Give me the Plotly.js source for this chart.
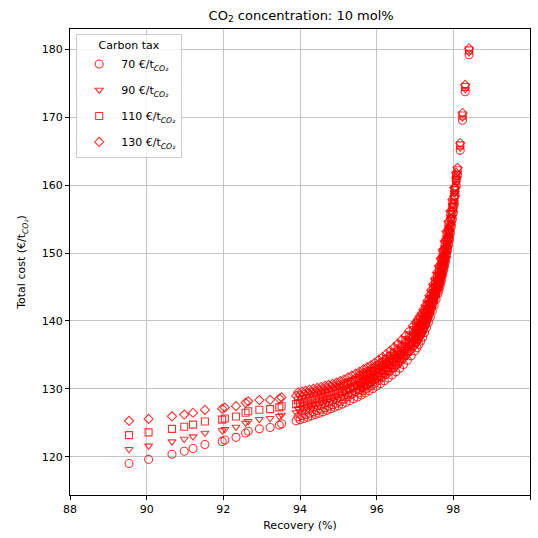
<!DOCTYPE html>
<html>
<head>
<meta charset="utf-8">
<script src="https://cdn.plot.ly/plotly-3.0.1.min.js"></script>
<style>html,body{margin:0;padding:0;background:#fff;}#chart{width:538px;height:538px;}</style>
</head>
<body>
<div id="chart"></div>
<script>
// Recovery (%) of each design point (shared by all carbon-tax series)
const recovery = [
89.54,90.05,90.66,90.98,91.21,91.52,91.97,92.04,92.33,92.58,92.65,92.94,93.22,93.46,93.52,
93.9,93.95,94.0,94.05,94.1,94.15,94.2,94.25,94.3,94.35,94.4,94.45,94.5,94.55,94.6,94.65,94.7,94.75,94.8,94.85,94.9,94.95,
95.0,95.05,95.1,95.15,95.2,95.25,95.3,95.35,95.4,95.45,95.5,95.55,95.6,95.65,95.7,95.75,95.8,95.85,95.9,95.95,
96.0,96.05,96.1,96.15,96.2,96.25,96.3,96.35,96.4,96.45,96.5,96.55,96.6,96.65,96.7,96.75,96.8,96.85,96.9,96.95,
97.0,97.025,97.05,97.075,97.1,97.125,97.15,97.175,97.2,97.225,97.25,97.275,97.3,97.325,97.35,97.375,97.4,97.425,97.45,97.475,
97.5,97.525,97.55,97.575,97.6,97.625,97.625,97.65,97.675,97.675,97.7,97.725,97.725,97.75,97.775,97.775,97.8,97.825,97.825,
97.85,97.875,97.875,97.9,97.925,97.925,97.95,97.975,97.975,98.0,98.025,98.025,98.05,98.075,98.075,
98.11,98.18,98.24,98.31,98.41,
95.55,95.65,95.75,95.85,95.95,96.05,96.15,96.25,96.35,96.45,96.55,96.65,96.75,96.85,96.95,
97.025,97.075,97.125,97.175,97.225,97.275,97.325,97.375,97.425,97.475,97.525,97.575,97.625,97.675,97.725,97.775,97.825,97.875
];
// Total cost (€/t CO2) per carbon tax
const cost70 = [
119.0,119.6,120.35,120.8,121.2,121.8,122.25,122.45,122.85,123.5,123.75,124.1,124.3,124.65,124.85,
125.30,125.87,125.45,126.04,125.63,126.22,125.82,126.41,126.01,126.60,126.20,126.80,126.40,127.00,126.61,127.22,126.83,127.44,127.05,127.66,127.27,127.88,
127.50,128.17,127.75,128.47,128.00,128.83,128.26,129.15,128.53,129.51,128.80,129.85,129.10,130.25,129.40,130.61,129.72,130.98,130.05,131.42,
130.40,131.89,130.78,132.38,131.18,132.89,131.60,133.42,132.04,133.97,132.50,134.56,133.02,135.20,133.58,135.89,134.20,136.64,134.88,137.44,
135.60,138.02,136.05,138.50,136.55,138.95,137.05,139.42,137.60,140.03,138.28,140.68,139.00,141.38,139.78,142.18,140.60,143.02,141.45,143.87,
142.30,144.77,143.15,145.67,144.00,144.52,146.67,145.08,145.63,147.83,146.20,146.83,149.08,147.48,148.13,150.43,148.80,149.57,151.87,
150.38,151.18,153.38,152.00,152.95,154.95,153.95,154.95,156.65,156.00,157.20,158.50,158.50,159.90,160.70,
161.45,165.15,169.60,173.80,179.25,
129.40,129.75,130.08,130.43,130.82,131.24,131.68,132.14,132.62,133.12,133.66,134.25,134.89,135.59,136.34,
136.92,137.40,137.85,138.32,138.93,139.58,140.28,141.08,141.92,142.77,143.67,144.57,145.57,146.73,147.98,149.33,150.77,152.28
];
const cost90 = [
121.09,121.59,122.22,122.6,122.96,123.5,123.86,124.04,124.38,124.98,125.22,125.51,125.66,125.96,126.15,
126.52,127.08,126.65,127.23,126.81,127.39,126.98,127.56,127.15,127.73,127.32,127.91,127.50,128.09,127.69,128.29,127.89,128.49,128.09,128.69,128.29,128.89,
128.50,129.16,128.73,129.44,128.96,129.78,129.20,130.08,129.45,130.42,129.70,130.74,129.98,131.12,130.26,131.46,130.56,131.81,130.87,132.23,
131.20,132.68,131.56,133.15,131.94,133.64,132.34,134.15,132.76,134.68,133.20,135.25,133.70,135.87,134.24,136.54,134.84,137.27,135.50,138.05,
136.20,138.62,136.64,139.09,137.13,139.53,137.62,139.99,138.16,140.59,138.83,141.23,139.54,141.92,140.31,142.71,141.12,143.54,141.96,144.38,
142.80,145.27,143.64,146.16,144.48,145.00,147.15,145.55,146.10,148.30,146.66,147.29,149.54,147.93,148.58,150.88,149.24,150.01,152.31,
150.81,151.61,153.81,152.42,153.37,155.37,154.36,155.36,157.06,156.40,157.60,158.90,158.89,160.29,161.09,
161.83,165.51,169.95,174.14,179.57,
130.29,130.62,130.93,131.26,131.63,132.03,132.45,132.89,133.35,133.83,134.35,134.92,135.54,136.22,136.95,
137.52,137.99,138.43,138.89,139.49,140.13,140.82,141.61,142.44,143.28,144.17,145.06,146.05,147.20,148.44,149.78,151.21,152.71
];
const cost110 = [
123.18,123.58,124.09,124.41,124.72,125.19,125.46,125.63,125.92,126.47,126.69,126.92,127.01,127.27,127.44,
127.74,128.29,127.85,128.42,127.99,128.56,128.14,128.71,128.29,128.86,128.44,129.02,128.60,129.18,128.77,129.36,128.95,129.54,129.13,129.72,129.31,129.90,
129.50,130.15,129.71,130.41,129.92,130.73,130.14,131.01,130.37,131.33,130.60,131.63,130.86,131.99,131.12,132.31,131.40,132.64,131.69,133.04,
132.00,133.47,132.34,133.92,132.70,134.39,133.08,134.88,133.48,135.39,133.90,135.94,134.38,136.54,134.90,137.19,135.48,137.90,136.12,138.66,
136.80,139.21,137.23,139.67,137.71,140.10,138.19,140.55,138.72,141.14,139.38,141.77,140.08,142.45,140.84,143.23,141.64,144.05,142.47,144.88,
143.30,145.76,144.13,146.64,144.96,145.47,147.62,146.02,146.56,148.76,147.12,147.74,149.99,148.38,149.02,151.32,149.68,150.44,152.74,
151.24,152.03,154.23,152.84,153.78,155.78,154.77,155.76,157.46,156.80,157.99,159.29,159.28,160.67,161.47,
162.21,165.88,170.30,174.48,179.89,
131.18,131.49,131.78,132.09,132.44,132.82,133.22,133.64,134.08,134.54,135.04,135.59,136.19,136.85,137.56,
138.11,138.57,139.00,139.45,140.04,140.67,141.35,142.13,142.95,143.78,144.66,145.54,146.52,147.66,148.89,150.22,151.64,153.13
];
const cost130 = [
125.28,125.57,125.95,126.21,126.47,126.89,127.07,127.23,127.45,127.95,128.16,128.34,128.37,128.57,128.74,
128.96,129.50,129.05,129.61,129.17,129.73,129.30,129.86,129.43,129.99,129.56,130.13,129.70,130.27,129.85,130.43,130.01,130.59,130.17,130.75,130.33,130.91,
130.50,131.14,130.69,131.38,130.88,131.68,131.08,131.94,131.29,132.24,131.50,132.52,131.74,132.86,131.98,133.16,132.24,133.47,132.51,133.85,
132.80,134.26,133.12,134.69,133.46,135.14,133.82,135.61,134.20,136.10,134.60,136.63,135.06,137.21,135.56,137.84,136.12,138.53,136.74,139.27,
137.40,139.81,137.82,140.26,138.29,140.68,138.76,141.12,139.28,141.70,139.93,142.32,140.62,142.99,141.37,143.76,142.16,144.57,142.98,145.39,
143.80,146.26,144.62,147.13,145.44,145.95,148.10,146.49,147.03,149.23,147.58,148.20,150.45,148.83,149.47,151.77,150.12,150.88,153.18,
151.67,152.46,154.66,153.26,154.20,156.20,155.18,156.17,157.87,157.20,158.39,159.69,159.67,161.06,161.86,
162.58,166.24,170.66,174.81,180.20,
132.07,132.36,132.63,132.92,133.25,133.61,133.99,134.39,134.81,135.25,135.73,136.26,136.84,137.48,138.17,
138.71,139.16,139.58,140.02,140.60,141.22,141.89,142.66,143.47,144.29,145.16,146.03,147.00,148.13,149.35,150.67,152.08,153.56
];
const seriesNames = ['70 €/t<sub><i>CO₂</i></sub>','90 €/t<sub><i>CO₂</i></sub>','110 €/t<sub><i>CO₂</i></sub>','130 €/t<sub><i>CO₂</i></sub>'];
const seriesCosts = [cost70, cost90, cost110, cost130];
const symbols = ['circle-open','triangle-down-open','square-open','diamond-open'];
const sizes = [8, 7, 7, 7];
const red = 'rgba(255,0,0,0.8)';

const traces = seriesCosts.map((c, i) => ({
  type: 'scatter', mode: 'markers', x: recovery, y: c, name: seriesNames[i],
  legendgroup: 'g' + i,
  marker: {symbol: symbols[i], size: sizes[i], color: red, line: {color: red, width: 1.1}}
}));

const font = {family: 'DejaVu Sans, sans-serif', size: 11, color: '#000'};
const layout = {
  width: 538, height: 538,
  margin: {l: 70, r: 8, t: 29, b: 43},
  paper_bgcolor: '#fff', plot_bgcolor: '#fff',
  font: font,
  title: {text: 'CO<sub>2</sub> concentration: 10 mol%', font: {family: 'DejaVu Sans, sans-serif', size: 13, color: '#000'}, x: 0.5597, xanchor: 'center', y: 0.972, yanchor: 'middle'},
  showlegend: true,
  legend: {x: 0.0135, y: 0.989, xanchor: 'left', yanchor: 'top', bgcolor: 'rgba(255,255,255,0.85)', bordercolor: '#cccccc', borderwidth: 1,
    font: font, tracegroupgap: 7, itemwidth: 34, title: {text: 'Carbon tax', side: 'top center', font: font}},
  xaxis: {range: [88, 100], tick0: 88, dtick: 2, showgrid: true, gridcolor: '#c4c4c4', gridwidth: 1, zeroline: false,
    showline: true, linecolor: '#000', linewidth: 1, mirror: true, ticks: 'outside', ticklen: 4, tickcolor: '#000',
    tickfont: font, title: {text: 'Recovery (%)', font: font, standoff: 6}},
  yaxis: {range: [114.35, 183.04], tick0: 120, dtick: 10, showgrid: true, gridcolor: '#c4c4c4', gridwidth: 1, zeroline: false,
    showline: true, linecolor: '#000', linewidth: 1, mirror: true, ticks: 'outside', ticklen: 4, tickcolor: '#000',
    tickfont: font, title: {text: 'Total cost (€/t<sub><i>CO₂</i></sub>)', font: font, standoff: 13}}
};
Plotly.newPlot('chart', traces, layout, {displayModeBar: false, staticPlot: true});
</script>
</body>
</html>
